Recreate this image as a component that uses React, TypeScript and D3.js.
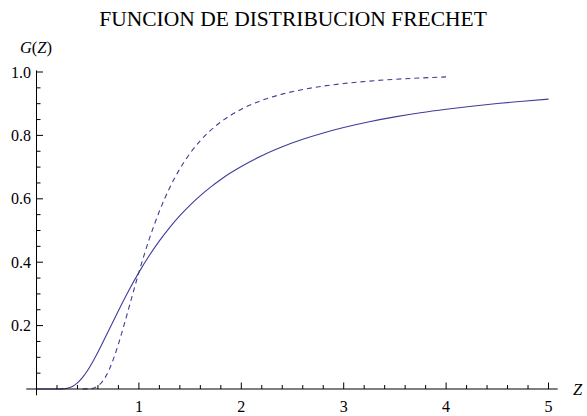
import React from "react";
import * as d3 from "d3";

// Solid curve (Frechet CDF, alpha = 1.5)
const solidZ = [0, 0.1, 0.2, 0.25, 0.3, 0.35, 0.4, 0.45, 0.5, 0.6, 0.7, 0.8, 0.9, 1.0, 1.1, 1.2, 1.3, 1.4, 1.5, 1.6, 1.7, 1.8, 1.9, 2.0, 2.2, 2.4, 2.6, 2.8, 3.0, 3.25, 3.5, 3.75, 4.0, 4.25, 4.5, 4.75, 5.0];
const solidG = [0, 0, 0.00001, 0.00034, 0.00227, 0.008, 0.0192, 0.0364, 0.0591, 0.1163, 0.1813, 0.2472, 0.31, 0.3679, 0.4203, 0.4673, 0.5093, 0.5468, 0.5802, 0.6101, 0.6369, 0.661, 0.6827, 0.7022, 0.736, 0.7641, 0.7878, 0.8078, 0.8249, 0.8431, 0.8584, 0.8714, 0.8825, 0.8922, 0.9005, 0.9079, 0.9144];

// Dashed curve (Frechet CDF, alpha = 3)
const dashedZ = [0.45, 0.5, 0.55, 0.6, 0.65, 0.7, 0.75, 0.8, 0.85, 0.9, 0.95, 1.0, 1.1, 1.2, 1.3, 1.4, 1.5, 1.6, 1.7, 1.8, 1.9, 2.0, 2.2, 2.4, 2.6, 2.8, 3.0, 3.25, 3.5, 3.75, 4.0];
const dashedG = [0.00002, 0.00034, 0.00245, 0.00976, 0.0262, 0.0542, 0.0935, 0.1418, 0.1963, 0.2537, 0.3115, 0.3679, 0.4718, 0.5606, 0.6344, 0.6946, 0.7436, 0.7834, 0.8159, 0.8424, 0.8643, 0.8825, 0.9104, 0.9302, 0.9447, 0.9555, 0.9636, 0.9713, 0.977, 0.9812, 0.9845];

const xTicks = [1, 2, 3, 4, 5];
const yTicks = [0.2, 0.4, 0.6, 0.8, 1.0];
const yTickLabels = ["0.2", "0.4", "0.6", "0.8", "1.0"];

const W = 587;
const H = 416;
const COLOR = "#3f3d99";
const FONT = '"Liberation Serif", "DejaVu Serif", serif';

export default function App() {
  const x = d3.scaleLinear().domain([0, 5]).range([36.5, 548.5]);
  const y = d3.scaleLinear().domain([0, 1]).range([389, 72]);

  const line = d3
    .line<[number, number]>()
    .x((d) => x(d[0]))
    .y((d) => y(d[1]))
    .curve(d3.curveMonotoneX);

  const solid = solidZ.map((z, i) => [z, solidG[i]] as [number, number]);
  const dashed = dashedZ.map((z, i) => [z, dashedG[i]] as [number, number]);

  const xMinor = d3.range(0.2, 5.01, 0.2).filter((v) => Math.abs(v - Math.round(v)) > 1e-6);
  const yMinor = d3.range(0.05, 1.001, 0.05).filter((v) => Math.abs(v * 5 - Math.round(v * 5)) > 1e-6);

  const x0 = x(0);
  const y0 = y(0);
  const ts = { fontFamily: FONT } as React.CSSProperties;

  return (
    <svg width={W} height={H} style={{ position: "absolute", left: 0, top: 0, background: "#fff", fontFamily: FONT }}>
      <rect x={0} y={0} width={W} height={H} fill="#fff" />
      <text x={293} y={26} textAnchor="middle" fontSize={21.5} fill="#000" style={ts}>
        FUNCION DE DISTRIBUCION FRECHET
      </text>

      {/* curves */}
      <path d={line(solid) || ""} fill="none" stroke={COLOR} strokeWidth={1.1} />
      <path d={line(dashed) || ""} fill="none" stroke={COLOR} strokeWidth={1.1} strokeDasharray="5,4" />

      {/* x axis */}
      <line x1={x(-0.1)} x2={x(5.09)} y1={y0} y2={y0} stroke="#000" strokeWidth={1} />
      {xTicks.map((t) => (
        <g key={"xt" + t}>
          <line x1={x(t)} x2={x(t)} y1={y0} y2={y0 - 6.5} stroke="#000" strokeWidth={1} />
          <text x={x(t)} y={412} textAnchor="middle" fontSize={16} fill="#000" style={ts}>
            {t}
          </text>
        </g>
      ))}
      {xMinor.map((t, i) => (
        <line key={"xm" + i} x1={x(t)} x2={x(t)} y1={y0} y2={y0 - 4} stroke="#000" strokeWidth={1} />
      ))}
      <text x={573} y={395} fontSize={16.5} fontStyle="italic" fill="#000" style={ts}>
        Z
      </text>

      {/* y axis */}
      <line x1={x0} x2={x0} y1={y(-0.02)} y2={y(1.005)} stroke="#000" strokeWidth={1} />
      {yTicks.map((t, i) => (
        <g key={"yt" + t}>
          <line x1={x0} x2={x0 + 6.5} y1={y(t)} y2={y(t)} stroke="#000" strokeWidth={1} />
          <text x={31} y={y(t) + 5.5} textAnchor="end" fontSize={16} fill="#000" style={ts}>
            {yTickLabels[i]}
          </text>
        </g>
      ))}
      {yMinor.map((t, i) => (
        <line key={"ym" + i} x1={x0} x2={x0 + 4} y1={y(t)} y2={y(t)} stroke="#000" strokeWidth={1} />
      ))}
      <text x={36} y={53} textAnchor="middle" fontSize={16.5} fill="#000" style={ts}>
        <tspan fontStyle="italic">G</tspan>
        <tspan>(</tspan>
        <tspan fontStyle="italic">Z</tspan>
        <tspan>)</tspan>
      </text>
    </svg>
  );
}
